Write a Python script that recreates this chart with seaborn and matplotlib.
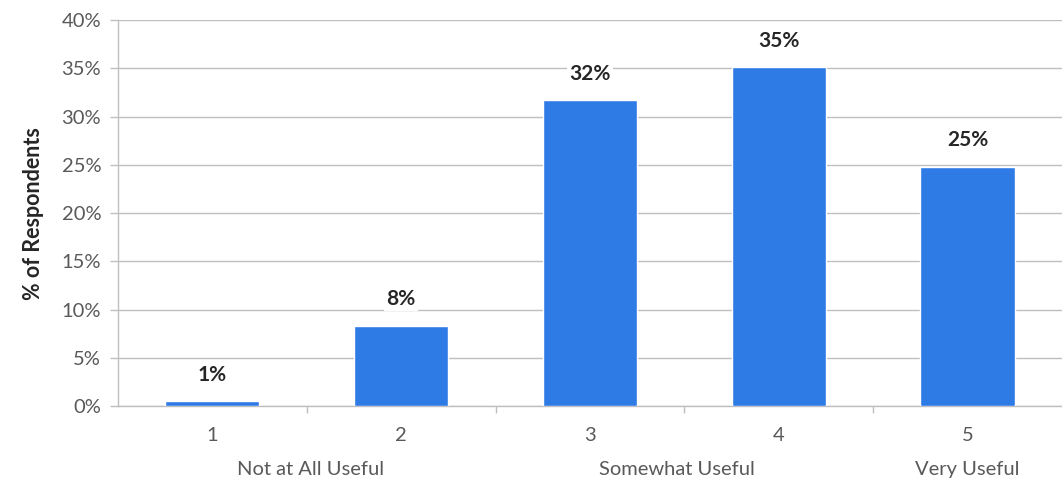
import matplotlib
matplotlib.use("Agg")
import matplotlib.pyplot as plt
import seaborn as sns
import pandas as pd

# datos
categorias = ["1", "2", "3", "4", "5"]
valores = [0.5, 8.3, 31.7, 35.1, 24.8]
etiquetas = ["1%", "8%", "32%", "35%", "25%"]
descripciones = ["Not at All Useful", "Somewhat Useful", "Very Useful"]
pos_descripciones = [0.52, 2.46, 4.0]
yticks = [0, 5, 10, 15, 20, 25, 30, 35, 40]

sns.set_theme(style="white")
plt.rcParams["font.family"] = ["Lato", "DejaVu Sans"]

azul = "#2F7BE6"
gris = "#BFBFBF"
texto = "#595959"

df = pd.DataFrame({"cat": categorias, "pct": valores})

fig = plt.figure(figsize=(10.62, 4.91), dpi=100)
ax = fig.add_axes([0.111, 0.173, 0.889, 0.786])

sns.barplot(data=df, x="cat", y="pct", color=azul, saturation=1, width=0.5, ax=ax, zorder=3)

ax.set_ylim(0, 40)
ax.set_xlim(-0.5, 4.5)
ax.set_yticks(yticks)
ax.set_yticklabels([f"{t}%" for t in yticks], fontsize=14.5, color=texto)
ax.yaxis.grid(True, color=gris, linewidth=1)
ax.set_axisbelow(True)

# marcas del eje x entre categorías
ax.set_xticks(range(len(categorias)))
ax.set_xticklabels(categorias, fontsize=14.5, color=texto)
ax.set_xticks([0.5, 1.5, 2.5, 3.5], minor=True)
ax.tick_params(axis="x", which="major", length=0, pad=15)
ax.tick_params(axis="x", which="minor", length=5, color=gris, width=1, direction="out")
ax.tick_params(axis="y", length=6, color=gris, width=1, direction="out", pad=6)
ax.xaxis.set_ticks_position("bottom")
ax.yaxis.set_ticks_position("left")

for lado in ["top", "right"]:
    ax.spines[lado].set_visible(False)
for lado in ["left", "bottom"]:
    ax.spines[lado].set_color(gris)
    ax.spines[lado].set_linewidth(1)

ax.set_xlabel("")
ax.set_ylabel("% of Respondents", fontsize=15.5, fontweight="bold", color="#262626", labelpad=13)

# etiquetas de valor
for i, (v, e) in enumerate(zip(valores, etiquetas)):
    ax.annotate(e, (i, v), xytext=(0, 12), textcoords="offset points",
                ha="center", va="bottom", fontsize=15, fontweight="bold", color="#262626",
                bbox=dict(facecolor="white", edgecolor="none", pad=1.5), zorder=4)

# descripciones debajo de los números
for x, d in zip(pos_descripciones, descripciones):
    ax.annotate(d, (x, 0), xycoords=("data", "axes fraction"), xytext=(0, -46),
                textcoords="offset points", ha="center", va="center", fontsize=14.5, color=texto)

fig.savefig("out.png", dpi=100)
